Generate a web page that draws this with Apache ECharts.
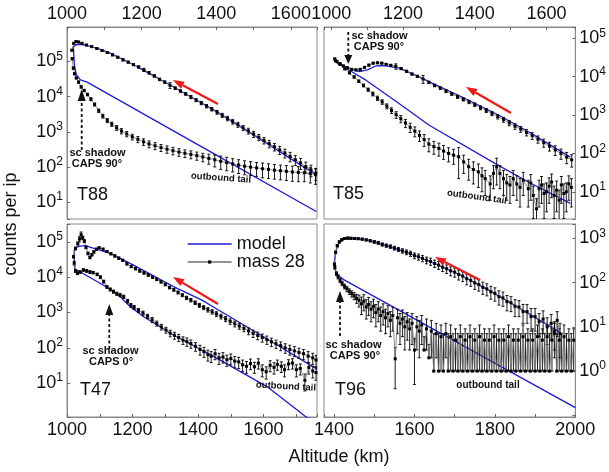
<!DOCTYPE html>
<html><head><meta charset="utf-8">
<script src="https://cdn.jsdelivr.net/npm/echarts@6/dist/echarts.min.js"></script>
<style>html,body{margin:0;padding:0;background:#fff}#c{width:609px;height:472px}</style>
</head><body><div id="c"></div>
<script>
// ================= DATA =================
// panel names
const panelNames = ['T88', 'T85', 'T47', 'T96'];

// ---- T88 (top-left) ----  [altitude km, counts]
const t88ModelIn = [[1668,60],[1600,170],[1535,470],[1470,1290],[1402,3700],[1335,9500],[1268,2.4e4],[1220,4.6e4],[1178,8.1e4],[1145,1.22e5],[1116,1.74e5],[1080,2.4e5],[1050,2.9e5],[1036,3.1e5],[1024,3.0e5],[1017,2.6e5]];
const t88ModelOut = [[1017,2.6e5],[1020,8e4],[1025,4.2e4],[1036,3.0e4],[1054,2.6e4],[1360,380],[1668,5.4]];
// [altitude, counts, error]
const t88In = [[1013,2.1e5,1e4],[1018,3.3e5,1.5e4],[1024,3.7e5,1.5e4],[1031,3.6e5,1.5e4],[1040,3.3e5,1.5e4],[1052,2.95e5,1.2e4],[1066,2.65e5,1.2e4],[1080,2.35e5,1e4],[1094,2.05e5,1e4],[1108,1.8e5,1e4],[1122,1.55e5,1e4],[1136,1.32e5,8e3],[1150,1.12e5,8e3],[1164,9.6e4,6e3],[1178,8.2e4,6e3],[1192,7.0e4,5e3],[1206,5.8e4,6e3],[1220,4.8e4,4e3],[1234,3.9e4,3e3],[1248,3.1e4,2.5e3],[1262,2.6e4,2e3],[1276,2.1e4,4e3],[1290,1.75e4,1.5e3],[1304,1.45e4,1.2e3],[1318,1.2e4,1e3],[1332,9.8e3,1e3],[1346,8.0e3,800],[1360,6.6e3,700],[1374,5.4e3,600],[1388,4.4e3,500],[1402,3.6e3,450],[1416,2.95e3,400],[1430,2.4e3,350],[1444,1.95e3,300],[1458,1.6e3,260],[1472,1.3e3,220],[1486,1.06e3,200],[1500,860,170],[1514,700,140],[1528,570,120],[1542,460,110],[1556,375,90],[1570,305,80],[1584,250,70],[1598,200,60],[1612,160,50],[1626,130,45],[1640,102,35],[1654,82,30],[1667,66,25]];
const t88Out = [[1014,1.2e5,8e3],[1017,6.5e4,5e3],[1020,4.5e4,3e3],[1025,3.4e4,2e3],[1031,2.6e4,2e3],[1038,1.9e4,1.5e3],[1046,1.5e4,1.2e3],[1055,1.15e4,1e3],[1064,8.5e3,800],[1074,6.0e3,600],[1085,4.0e3,450],[1096,2.8e3,350],[1108,2.1e3,280],[1120,1.65e3,230],[1133,1.3e3,200],[1146,1.05e3,180],[1160,870,150],[1175,720,130],[1190,610,120],[1205,520,110],[1220,450,100],[1236,400,90],[1252,355,80],[1268,320,75],[1284,290,70],[1300,265,65],[1316,245,60],[1332,228,58],[1348,210,55],[1364,192,52],[1380,175,55],[1396,160,60],[1412,145,60],[1428,133,55],[1444,122,50],[1460,113,48],[1476,105,45],[1492,99,42],[1508,94,40],[1524,89,40],[1540,85,38],[1556,81,36],[1572,78,35],[1588,75,34],[1604,72,33],[1620,70,32],[1636,68,30],[1652,65,30],[1666,60,28]];

// ---- T85 (top-right) ----
const t85ModelIn = [[1666,80],[1558,330],[1466,1000],[1373,2700],[1281,6800],[1235,1.1e4],[1189,1.66e4],[1152,1.9e4],[1138,1.95e4],[1124,1.9e4],[1101,1.5e4],[1078,1.35e4],[1051,1.66e4],[1018,2.2e4],[1014,2.4e4]];
const t85ModelOut = [[1014,2.4e4],[1041,1.66e4],[1097,8100],[1189,2000],[1272,550],[1456,55],[1549,18],[1666,5.0]];
const t85In = [[1010,2.9e4,1.5e3],[1016,2.5e4,1.2e3],[1024,2.2e4,1e3],[1034,1.9e4,1e3],[1045,1.7e4,900],[1057,1.55e4,800],[1069,1.5e4,800],[1081,1.55e4,800],[1093,1.75e4,900],[1105,2.0e4,1e3],[1117,2.25e4,1.1e3],[1129,2.3e4,1.1e3],[1141,2.25e4,1.1e3],[1153,2.1e4,1e3],[1166,1.98e4,1e3],[1180,1.86e4,3e3],[1195,1.62e4,900],[1210,1.38e4,800],[1225,1.17e4,700],[1240,1.02e4,600],[1256,8.7e3,2e3],[1272,7.1e3,500],[1288,5.9e3,450],[1304,5.0e3,400],[1320,4.2e3,350],[1336,3.55e3,300],[1352,3.0e3,280],[1368,2.57e3,250],[1384,2.2e3,220],[1400,1.86e3,200],[1416,1.55e3,180],[1432,1.32e3,160],[1448,1.1e3,140],[1464,910,120],[1480,760,110],[1496,620,95],[1512,510,85],[1528,430,75],[1544,350,65],[1560,290,58],[1576,235,50],[1592,190,45],[1608,155,40],[1624,123,35],[1640,100,30],[1656,80,26],[1670,68,24]];
const t85Out = [[1012,2.6e4,1.2e3],[1025,2.1e4,1e3],[1038,1.6e4,900],[1051,1.26e4,800],[1064,9.8e3,700],[1077,7.6e3,600],[1090,5.9e3,500],[1103,4.6e3,450],[1116,3.55e3,400],[1129,2.75e3,350],[1142,2.2e3,300],[1155,1.7e3,250],[1168,1.32e3,220],[1181,1.02e3,200],[1194,800,170],[1207,620,150],[1220,480,130],[1233,380,110],[1246,295,90],[1259,230,80],[1272,175,65],[1286,150,55],[1300,135,50],[1313,115,45],[1327,100,40],[1341,90,38],[1355,82,60],[1369,60,30],[1383,45,25],[1396,38,22],[1410,33,20],[1420,26,16],[1429,22,14],[1443,16,10],[1452,30,18],[1461,45,30],[1470,30,18],[1480,22,14],[1489,17,11],[1498,15,10],[1507,22,14],[1517,16,10],[1526,13,9],[1535,20,12],[1549,12,8],[1556,17,11],[1563,8,6],[1572,3.6,3],[1579,12,8],[1586,15,10],[1593,9,7],[1600,10,7],[1607,14,9],[1614,18,11],[1621,8,6],[1628,11,8],[1635,6,5],[1641,15,10],[1648,9,7],[1655,10,7],[1662,16,10],[1669,13,9]];

// ---- T47 (bottom-left) ----
const t47ModelIn = [[1763,25],[1600,205],[1457,1260],[1412,2240],[1325,5400],[1203,2.2e4],[1132,4.7e4],[1080,6.6e4],[1056,7.8e4],[1040,7.6e4],[1028,7.0e4],[1022,6.0e4]];
const t47ModelOut = [[1022,6.0e4],[1022,3.0e4],[1024,1.7e4],[1030,1.5e4],[1041,1.4e4],[1102,6600],[1152,3470],[1193,1450],[1234,760],[1325,230],[1457,51],[1610,8],[1727,1.15],[1763,0.72]];
const t47In = [[1020,3.8e4,3e3],[1026,6.5e4,6e3],[1033,9e4,1e4],[1038,1.2e5,2e4],[1043,1.6e5,3e4],[1048,1.3e5,1.5e4],[1053,1.05e5,1e4],[1058,7e4,6e3],[1064,4.7e4,4e3],[1070,3.6e4,3e3],[1076,4.3e4,3e3],[1082,5.2e4,4e3],[1090,6.2e4,4e3],[1098,6.8e4,4e3],[1110,6.2e4,4e3],[1122,5.3e4,3e3],[1134,4.6e4,3e3],[1146,4.0e4,3e3],[1158,3.45e4,2.5e3],[1170,3.0e4,2e3],[1183,2.4e4,2e3],[1196,2.0e4,1.5e3],[1209,1.74e4,1.3e3],[1222,1.5e4,1.2e3],[1235,1.32e4,1e3],[1248,1.15e4,900],[1261,1.0e4,800],[1274,8.7e3,700],[1287,7.4e3,600],[1300,6.2e3,500],[1313,5.1e3,450],[1326,4.4e3,400],[1339,3.7e3,350],[1352,3.1e3,300],[1365,2.6e3,280],[1378,2.24e3,250],[1391,1.9e3,220],[1404,1.6e3,200],[1417,1.38e3,180],[1430,1.2e3,170],[1443,1.05e3,150],[1456,910,140],[1470,775,120],[1484,660,110],[1498,560,100],[1512,480,90],[1526,415,80],[1540,355,70],[1554,300,65],[1568,257,60],[1582,224,55],[1596,195,50],[1610,170,45],[1624,148,40],[1638,130,35],[1652,115,32],[1666,100,30],[1680,90,28],[1694,82,26],[1708,74,24],[1722,68,22],[1736,58,20],[1750,52,18],[1760,45,16]];
const t47Out = [[1022,2.5e4,3e3],[1026,1.5e4,1.5e3],[1032,1.3e4,1.2e3],[1040,1.4e4,1.2e3],[1050,1.6e4,1.3e3],[1060,1.5e4,1.2e3],[1070,1.4e4,1.2e3],[1080,1.35e4,1.1e3],[1092,1.2e4,1e3],[1102,1.0e4,900],[1112,7.5e3,700],[1122,5.3e3,500],[1132,4.5e3,450],[1142,3.9e3,400],[1152,3.4e3,350],[1162,3.1e3,320],[1173,2.8e3,300],[1185,2.1e3,250],[1195,1.6e3,200],[1205,1.4e3,180],[1218,1.15e3,150],[1232,960,130],[1246,780,110],[1260,620,100],[1274,490,80],[1288,390,70],[1302,320,60],[1315,260,55],[1328,225,50],[1341,195,45],[1354,165,40],[1366,150,40],[1378,132,35],[1392,110,30],[1406,90,28],[1418,78,25],[1430,64,22],[1440,58,20],[1452,68,22],[1464,52,18],[1476,55,18],[1488,46,16],[1500,50,17],[1512,42,15],[1524,40,14],[1536,33,12],[1548,30,11],[1560,36,12],[1572,29,10],[1584,37,12],[1596,24,9],[1608,21,8],[1620,32,11],[1632,28,10],[1642,34,11],[1654,30,10],[1664,24,9],[1676,35,11],[1688,37,12],[1700,24,9],[1712,26,9],[1726,12,6],[1738,28,10],[1750,22,8],[1760,20,8]];

// ---- T96 (bottom-right) ----
const t96ModelIn = [[1961,7.6],[1912,14],[1846,32],[1780,71],[1714,148],[1648,275],[1590,447],[1532,676],[1483,910],[1450,1000],[1425,955],[1412,775],[1404,500],[1401,300]];
const t96ModelOut = [[1401,300],[1404,175],[1412,140],[1425,115],[2000,0.15]];
const t96In = [[1401,260,20],[1404,480,30],[1408,680,40],[1413,830,45],[1419,930,50],[1426,990,50],[1434,1010,50],[1442,1000,50],[1451,990,50],[1460,980,50],[1470,955,50],[1480,920,50],[1490,880,50],[1500,830,60],[1510,790,60],[1520,725,60],[1530,685,60],[1540,650,60],[1550,600,60],[1560,560,60],[1570,520,60],[1580,485,60],[1590,450,60],[1600,405,60],[1610,380,60],[1620,350,55],[1630,320,55],[1640,300,55],[1650,270,50],[1660,248,50],[1670,222,45],[1680,205,45],[1690,184,42],[1700,172,40],[1710,152,38],[1720,140,35],[1730,122,33],[1740,112,30],[1750,98,28],[1760,90,26],[1770,78,24],[1780,72,22],[1790,62,20],[1800,57,19],[1810,48,17],[1820,45,16],[1830,37,14],[1840,35,13],[1850,29,12],[1860,28,11],[1870,22,10],[1880,22,10],[1890,17,9],[1900,17,9],[1910,13,7],[1920,15,8],[1930,10,6],[1940,12,7],[1948,7,5],[1955,14,8],[1962,7,5]];
const t96Out = [[1402,220,20],[1406,160,15],[1410,135,14],[1415,112,12],[1420,96,11],[1426,82,10],[1432,72,10],[1438,63,9],[1444,56,9],[1450,50,9],[1456,44,10],[1462,40,12],[1468,33,14],[1474,38,15],[1480,28,13],[1486,32,14],[1492,25,12],[1498,29,13],[1504,21,11],[1510,25,12],[1516,18,10],[1522,22,11],[1528,16,9],[1534,20,10],[1540,14,8],[1546,18,10],[1552,1.9,1.5],[1558,16,9],[1564,12,8],[1570,15,9],[1576,10,7],[1582,13,8],[1588,9,6],[1594,12,8],[1600,3,2.5],[1606,10,7],[1612,8,6],[1618,11,7],[1624,3,3],[1630,9,6],[1636,2,2],[1642,8,6],[1648,1,6],[1654,7,5],[1660,1,6],[1666,6,5],[1672,1,6],[1678,7,5],[1684,1,6],[1690,6,5],[1696,1,6],[1702,5,4],[1708,1,6],[1714,6,5],[1720,1,6],[1726,5,4],[1732,1,6],[1738,6,5],[1744,1,6],[1750,5,4],[1756,1,6],[1762,6,5],[1768,1,6],[1774,5,4],[1780,1,6],[1786,5,4],[1792,1,6],[1798,6,5],[1804,1,6],[1810,5,4],[1816,1,6],[1822,5,4],[1828,1,6],[1834,6,5],[1840,1,6],[1846,5,4],[1852,1,6],[1858,5,4],[1864,1,6],[1870,6,5],[1876,1,6],[1882,5,4],[1888,1,6],[1894,5,4],[1900,1,6],[1906,6,5],[1912,1,6],[1918,5,4],[1924,1,6],[1930,6,5],[1936,1,6],[1942,5,4],[1948,8,5],[1954,1,6],[1960,5,4],[1966,1,6],[1972,6,5],[1978,1,6],[1984,5,4],[1990,1,6],[1996,5,4]];

// axis ranges
const xRanges = [[1000,1670],[980,1680],[1000,1763],[1375,2000]];
const yRanges = [[3.3,9.6e5],[1.95,1.97e5],[1.1,3.2e5],[0.092,2100]];
const xTickLabels = [[1000,1200,1400,1600],[1000,1200,1400,1600],[1000,1200,1400,1600],[1400,1600,1800,2000]];
const yTickExps = [[1,2,3,4,5],[1,2,3,4,5],[1,2,3,4,5],[0,1,2,3]];

const models = [[t88ModelIn,t88ModelOut],[t85ModelIn,t85ModelOut],[t47ModelIn,t47ModelOut],[t96ModelIn,t96ModelOut]];
const measured = [[t88In,t88Out],[t85In,t85Out],[t47In,t47Out],[t96In,t96Out]];

// ================= CHART =================
const FF = '"Liberation Sans", Arial, sans-serif';
const chart = echarts.init(document.getElementById('c'), null, {renderer: 'canvas'});

const grids = [
  {left: 67, top: 27, width: 250, height: 192},
  {left: 324, top: 27, width: 252, height: 192},
  {left: 67, top: 224, width: 250, height: 193},
  {left: 324, top: 224, width: 252, height: 193}
].map(g => Object.assign(g, {show: true, borderColor: '#8a8a8a', borderWidth: 1, containLabel: false}));

const xAxes = xRanges.map((r, i) => ({
  type: 'value', gridIndex: i, min: r[0], max: r[1], splitNumber: 7,
  position: i < 2 ? 'top' : 'bottom',
  axisLine: {show: true, lineStyle: {color: '#8a8a8a'}},
  axisTick: {show: true, inside: true, length: 3, lineStyle: {color: '#666'}},
  splitLine: {show: false},
  axisLabel: {
    show: true, interval: 0, margin: 4, fontSize: 18, fontFamily: FF, color: '#111',
    formatter: v => xTickLabels[i].indexOf(Math.round(v)) >= 0 && Math.abs(v - Math.round(v)) < 1e-6 ? String(Math.round(v)) : ''
  }
}));

const yAxes = yRanges.map((r, i) => ({
  type: 'log', logBase: 10, gridIndex: i, min: r[0], max: r[1],
  position: (i % 2 === 0) ? 'left' : 'right',
  axisLine: {show: true, lineStyle: {color: '#8a8a8a'}},
  axisTick: {show: true, inside: true, length: 3, lineStyle: {color: '#666'}},
  splitLine: {show: false},
  axisLabel: {
    show: true, margin: 4, fontSize: 18, fontFamily: FF, color: '#111',
    formatter: v => {
      const l = Math.log10(v), e = Math.round(l);
      if (Math.abs(l - e) > 1e-6 || yTickExps[i].indexOf(e) < 0) return '';
      return '10{s|' + e + '}';
    },
    rich: {s: {fontSize: 12, fontFamily: FF, color: '#111', verticalAlign: 'top', padding: [0, 0, 10, 0]}}
  }
}));

function errRender(params, api) {
  const x = api.value(0), v = api.value(1), e = api.value(2);
  let lo = v - e; if (lo <= 0) lo = v;
  const hi = v + e;
  const p1 = api.coord([x, lo]), p2 = api.coord([x, hi]);
  const st = {stroke: '#000', lineWidth: 0.9};
  return {type: 'group', children: [
    {type: 'line', shape: {x1: p1[0], y1: p1[1], x2: p2[0], y2: p2[1]}, style: st},
    {type: 'line', shape: {x1: p1[0] - 1.5, y1: p1[1], x2: p1[0] + 1.5, y2: p1[1]}, style: st},
    {type: 'line', shape: {x1: p2[0] - 1.5, y1: p2[1], x2: p2[0] + 1.5, y2: p2[1]}, style: st}
  ]};
}

const series = [];
for (let i = 0; i < 4; i++) {
  models[i].forEach(m => series.push({
    type: 'line', name: 'model', xAxisIndex: i, yAxisIndex: i, data: m,
    symbol: 'none', clip: true, z: 2, silent: true,
    lineStyle: {color: '#1c1cd6', width: 1.3}, itemStyle: {color: '#1c1cd6'}
  }));
}
for (let i = 0; i < 4; i++) {
  measured[i].forEach(d => {
    series.push({
      type: 'custom', name: 'err', xAxisIndex: i, yAxisIndex: i, data: d,
      encode: {x: 0, y: 1}, renderItem: errRender, clip: true, z: 3, silent: true
    });
    series.push({
      type: 'line', name: 'mass 28', xAxisIndex: i, yAxisIndex: i,
      data: d.map(p => [p[0], p[1]]), symbol: 'rect', symbolSize: 3, clip: true, z: 4, silent: true,
      lineStyle: {color: '#707070', width: 0.8}, itemStyle: {color: '#000'}
    });
  });
}

// ---------- annotations ----------
const G = [];
function txt(x, y, s, size, weight, rot, align) {
  G.push({type: 'text', x: x, y: y, rotation: (rot || 0) * Math.PI / 180, z: 100, silent: true,
    style: {text: s, fontSize: size, fontWeight: weight || 'normal', fontFamily: FF, fill: '#111',
      align: align || 'center', verticalAlign: 'middle'}});
}
function arrowHead(x1, y1, x2, y2, len, w, color) {
  const dx = x2 - x1, dy = y2 - y1, L = Math.hypot(dx, dy), ux = dx / L, uy = dy / L;
  const bx = x2 - ux * len, by = y2 - uy * len;
  G.push({type: 'polygon', z: 100, silent: true,
    shape: {points: [[x2, y2], [bx - uy * w / 2, by + ux * w / 2], [bx + uy * w / 2, by - ux * w / 2]]},
    style: {fill: color}});
  return [bx, by];
}
function arrow(x1, y1, x2, y2, color, lw, len, w, dash) {
  const b = arrowHead(x1, y1, x2, y2, len, w, color);
  G.push({type: 'line', z: 99, silent: true, shape: {x1: x1, y1: y1, x2: b[0], y2: b[1]},
    style: {stroke: color, lineWidth: lw, lineDash: dash || null}});
}
// red arrows (direction of travel)
arrow(218, 104, 173, 80, '#f01818', 2.2, 11, 8);
arrow(511, 113, 466, 87, '#f01818', 2.2, 11, 8);
arrow(218, 304, 173, 277, '#f01818', 2.2, 11, 8);
arrow(480, 280, 435, 257, '#f01818', 2.2, 11, 8);
// sc shadow dashed arrows
arrow(81.7, 150, 81.7, 89, '#111', 1.8, 12, 8, [3, 2.5]);
arrow(348.3, 32, 348.3, 64, '#111', 1.8, 9, 8, [3, 2.5]);
arrow(109.3, 349, 109.3, 304, '#111', 1.8, 11, 8, [3, 2.5]);
arrow(340, 336, 340, 291, '#111', 1.8, 11, 8, [3, 2.5]);
// texts
txt(97.5, 153, 'sc shadow', 11, 'bold');
txt(97, 164, 'CAPS 90°', 11, 'bold');
txt(379.5, 36, 'sc shadow', 11, 'bold');
txt(379, 47, 'CAPS 90°', 11, 'bold');
txt(110.5, 351, 'sc shadow', 11, 'bold');
txt(111, 362, 'CAPS 0°', 11, 'bold');
txt(353.5, 345, 'sc shadow', 11, 'bold');
txt(355, 356, 'CAPS 90°', 11, 'bold');
txt(221, 178, 'outbound tail', 9.5, 'bold', -4);
txt(477, 197, 'outbound tail', 9.5, 'bold', -8);
txt(286, 386.5, 'outbound tail', 9.5, 'bold', -3);
txt(488, 385, 'outbound tail', 10, 'bold', 0);
// panel labels
txt(77, 195, panelNames[0], 18, 'normal', 0, 'left');
txt(333, 194, panelNames[1], 18, 'normal', 0, 'left');
txt(80, 390, panelNames[2], 18, 'normal', 0, 'left');
txt(335, 390, panelNames[3], 18, 'normal', 0, 'left');
// axis titles
txt(339, 457, 'Altitude (km)', 18, 'normal');
txt(11, 224, 'counts per ip', 18, 'normal', 90);

chart.setOption({
  animation: false,
  backgroundColor: '#fff',
  grid: grids,
  xAxis: xAxes,
  yAxis: yAxes,
  legend: {
    data: [
      {name: 'model', itemStyle: {opacity: 0}},
      {name: 'mass 28'}
    ],
    orient: 'vertical', left: 187, top: 235,
    itemWidth: 44, itemHeight: 4, itemGap: 0, padding: 0, selectedMode: false,
    lineStyle: {width: 1.3},
    textStyle: {fontSize: 18, fontFamily: FF, color: '#111', lineHeight: 17}
  },
  series: series,
  graphic: G
});
</script>
</body></html>
